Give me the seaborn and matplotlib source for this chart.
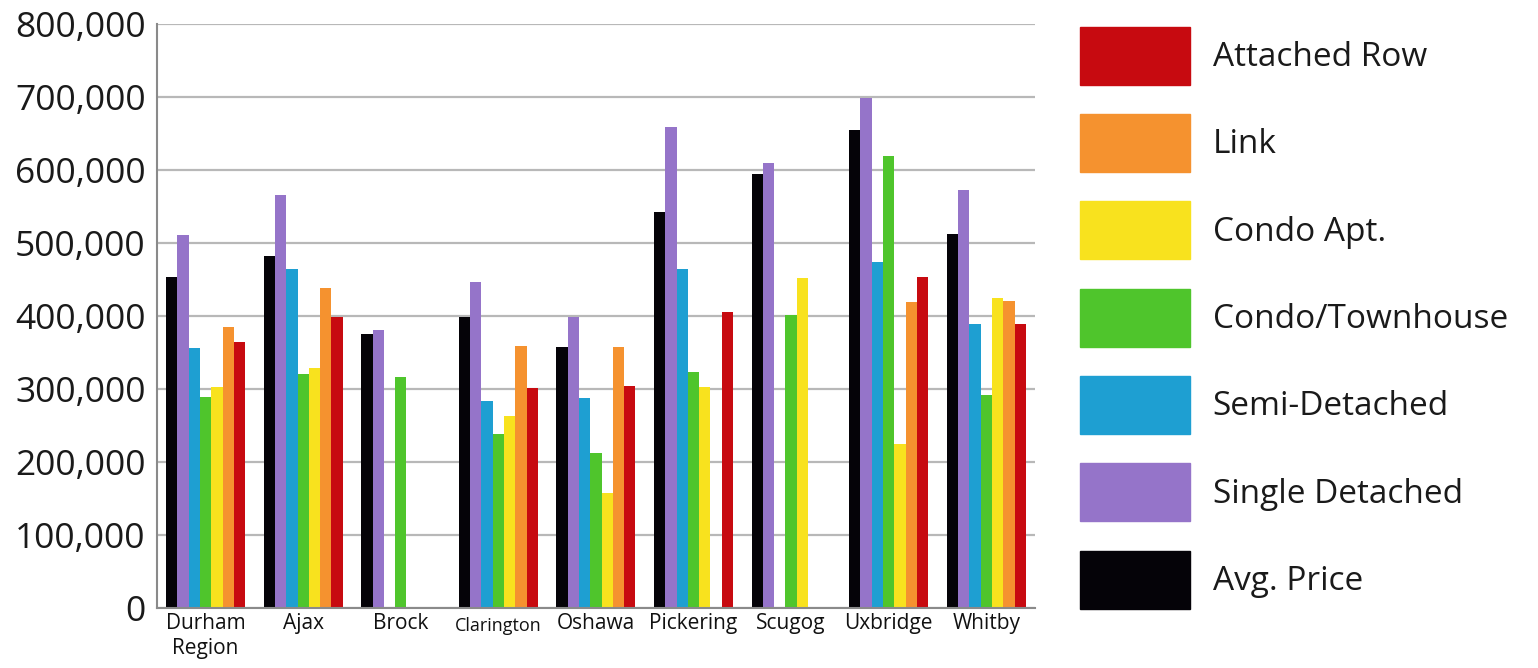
import matplotlib
matplotlib.use("Agg")
import matplotlib.pyplot as plt
import matplotlib.patches as mpatches
import matplotlib.ticker as mticker
import numpy as np
import pandas as pd
import seaborn as sns

# values
regions = ["Durham\nRegion", "Ajax", "Brock", "Clarington", "Oshawa",
           "Pickering", "Scugog", "Uxbridge", "Whitby"]
avg_price       = [454000, 482000, 375000, 398000, 357000, 543000, 595000, 655000, 512000]
single_detached = [511000, 566000, 381000, 447000, 398000, 659000, 609000, 699000, 573000]
semi_detached   = [356000, 464000, np.nan, 284000, 288000, 464000, np.nan, 474000, 389000]
condo_townhouse = [289000, 320000, 316000, 238000, 212000, 323000, 401000, 619000, 292000]
condo_apt       = [302000, 329000, np.nan, 263000, 157000, 302000, 452000, 225000, 424000]
link            = [385000, 439000, np.nan, 359000, 357000, np.nan, np.nan, 419000, 420000]
attached_row    = [364000, 399000, np.nan, 301000, 304000, 406000, np.nan, 453000, 389000]

series = {
    "Avg. Price": avg_price,
    "Single Detached": single_detached,
    "Semi-Detached": semi_detached,
    "Condo/Townhouse": condo_townhouse,
    "Condo Apt.": condo_apt,
    "Link": link,
    "Attached Row": attached_row,
}
palette = {
    "Avg. Price": "#050308",
    "Single Detached": "#9574c9",
    "Semi-Detached": "#1e9fd2",
    "Condo/Townhouse": "#4fc52c",
    "Condo Apt.": "#f8e21e",
    "Link": "#f5922f",
    "Attached Row": "#c70a10",
}

rows = []
for name, vals in series.items():
    for reg, v in zip(regions, vals):
        rows.append({"region": reg, "type": name, "price": v})
df = pd.DataFrame(rows)

sns.set_style("white")
plt.rcParams["font.family"] = ["Open Sans", "DejaVu Sans"]

fig = plt.figure(figsize=(15.38, 6.68), dpi=100)
ax = fig.add_axes([0.102, 0.090, 0.571, 0.874])

sns.barplot(data=df, x="region", y="price", hue="type", order=regions,
            hue_order=list(series.keys()), palette=palette, width=0.81,
            saturation=1, edgecolor="none", ax=ax, legend=False)

ax.set_ylim(0, 800000)
ax.set_xlim(-0.5, len(regions) - 0.5)
ax.yaxis.set_major_locator(mticker.MultipleLocator(100000))
ax.yaxis.set_major_formatter(mticker.FuncFormatter(lambda v, p: f"{int(v):,}"))
ax.yaxis.grid(True, color="#b8b8b8", linewidth=1.6)
ax.set_axisbelow(True)

ax.spines["right"].set_visible(False)
ax.spines["top"].set_visible(False)
ax.spines["left"].set_color("#8a8a8a")
ax.spines["bottom"].set_color("#8a8a8a")
ax.spines["left"].set_linewidth(1.5)
ax.spines["bottom"].set_linewidth(1.5)

ax.set_xlabel("")
ax.set_ylabel("")
ax.tick_params(axis="y", labelsize=25.5, direction="in", length=22, width=1.5,
               color="#8a8a8a", pad=8, labelcolor="#1a1a1a")
ax.tick_params(axis="x", which="major", length=0, labelsize=15, pad=4, labelcolor="#111111")
ax.set_xticks(np.arange(len(regions)) + 0.5, minor=True)
ax.tick_params(axis="x", which="minor", direction="in", length=8, width=1.2, color="#8a9ab0")
for lbl in ax.get_xticklabels():
    lbl.set_verticalalignment("top")
    if lbl.get_text() == "Clarington":
        lbl.set_fontsize(13)
        lbl.set_y(-0.006)

handles = [mpatches.Patch(color=palette[k], label=k) for k in reversed(list(series.keys()))]
fig.legend(handles=handles, loc="upper left", bbox_to_anchor=(0.702, 0.960),
           frameon=False, fontsize=24, handlelength=3.3, handleheight=2.30,
           labelspacing=0.88, handletextpad=0.69, borderpad=0, borderaxespad=0,
           labelcolor="#1a1a1a")

fig.savefig("out.png", dpi=100)
